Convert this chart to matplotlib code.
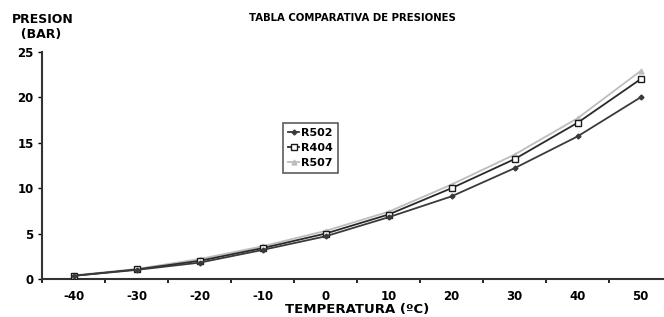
import matplotlib
matplotlib.use("Agg")
import matplotlib.pyplot as plt
import numpy as np

temps = ["-40", "-30", "-20", "-10", "0", "10", "20", "30", "40", "50"]
r502 = [0.35, 1.0, 1.8, 3.2, 4.7, 6.8, 9.1, 12.2, 15.7, 20.0]
r404 = [0.35, 1.05, 2.0, 3.4, 5.0, 7.1, 10.0, 13.2, 17.2, 22.0]
r507 = [0.4, 1.1, 2.2, 3.6, 5.3, 7.4, 10.4, 13.7, 17.7, 22.9]
yticks = [0, 5, 10, 15, 20, 25]

plt.rcParams['font.family'] = ['DejaVu Sans']
fig = plt.figure(figsize=(6.64, 3.17), dpi=100)
W, H = 664, 317
ax = fig.add_axes([42 / W, 38 / H, 630 / W, 227 / H])

x = np.arange(len(temps))
ax.plot(x, r507, color='#bdbdbd', lw=1.3, marker='^', ms=3.5, mfc='#bdbdbd', mec='#bdbdbd', label='R507', zorder=2)
ax.plot(x, r404, color='#2a2a2a', lw=1.3, marker='s', ms=4, mfc='white', mec='#1a1a1a', mew=1.0, label='R404', zorder=3)
ax.plot(x, r502, color='#3a3a3a', lw=1.3, marker='D', ms=2.5, mfc='#3a3a3a', mec='#3a3a3a', label='R502', zorder=4)

ax.set_xlim(-0.5, len(temps) - 0.5)
ax.set_ylim(0, 25)
ax.set_yticks(yticks)
ax.set_yticklabels([str(v) for v in yticks], fontsize=8.5, fontweight='bold')
ax.set_xticks(x)
ax.set_xticklabels(temps, fontsize=8.5, fontweight='bold')
ax.set_xticks(np.arange(-0.5, len(temps), 1.0), minor=True)
ax.tick_params(axis='x', which='major', length=0, pad=8)
ax.tick_params(axis='x', which='minor', length=3, width=1.2, direction='out')
ax.tick_params(axis='y', length=3, width=1.0, direction='out', pad=3)

for s in ['top', 'right']:
    ax.spines[s].set_visible(False)
for s in ['left', 'bottom']:
    ax.spines[s].set_linewidth(1.5)
    ax.spines[s].set_color('#333333')

ax.set_xlabel('TEMPERATURA (ºC)', fontsize=9.5, fontweight='bold', labelpad=0)

fig.text(12 / W, 1 - 27 / H, 'PRESION\n  (BAR)', fontsize=9, fontweight='bold',
         va='center', ha='left', linespacing=1.25)
fig.text(352 / W, 1 - 18 / H, 'TABLA COMPARATIVA DE PRESIONES', fontsize=7.3,
         fontweight='bold', ha='center', va='center')

handles, labels = ax.get_legend_handles_labels()
order = [2, 1, 0]
leg = ax.legend([handles[i] for i in order], [labels[i] for i in order],
                loc='upper left', bbox_to_anchor=((283 - 42) / 630, (279 - 123) / 227),
                prop={'weight': 'bold', 'size': 8}, frameon=True, fancybox=False,
                handlelength=1.0, handletextpad=0.15, borderpad=0.45, labelspacing=0.45,
                borderaxespad=0)
leg.get_frame().set_edgecolor('#333333')
leg.get_frame().set_linewidth(1.2)

fig.savefig('out.png', dpi=100)
